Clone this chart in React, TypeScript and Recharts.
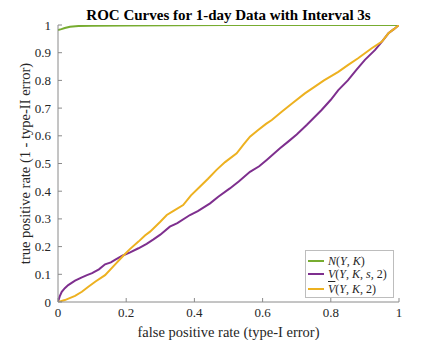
import React from 'react';
import { LineChart, Line, XAxis, YAxis } from 'recharts';

// N(Y,K)
const greenFpr = [0, 0.01, 0.02, 0.035, 0.06, 0.1, 0.2, 0.35, 0.5, 0.75, 1];
const greenTpr = [0.982, 0.985, 0.989, 0.994, 0.996, 0.997, 0.998, 0.999, 1, 1, 1];

// V(Y,K,s,2)
const purpleFpr = [0, 0.005, 0.011, 0.02, 0.03, 0.05, 0.07, 0.085, 0.1, 0.12, 0.138, 0.155, 0.167, 0.19, 0.21, 0.236, 0.26, 0.28, 0.3, 0.328, 0.35, 0.387, 0.41, 0.446, 0.47, 0.504, 0.53, 0.563, 0.59, 0.612, 0.651, 0.675, 0.7, 0.73, 0.773, 0.8, 0.822, 0.85, 0.875, 0.9, 0.93, 0.95, 0.969, 0.985, 1];
const purpleTpr = [0, 0.02, 0.037, 0.05, 0.061, 0.077, 0.089, 0.097, 0.104, 0.118, 0.136, 0.143, 0.152, 0.168, 0.178, 0.194, 0.21, 0.226, 0.243, 0.272, 0.285, 0.314, 0.328, 0.356, 0.38, 0.41, 0.435, 0.47, 0.49, 0.513, 0.555, 0.579, 0.605, 0.64, 0.693, 0.73, 0.765, 0.8, 0.838, 0.874, 0.91, 0.94, 0.97, 0.985, 1];

// V-bar(Y,K,2)
const yellowFpr = [0, 0.02, 0.05, 0.07, 0.089, 0.11, 0.138, 0.167, 0.19, 0.21, 0.236, 0.255, 0.27, 0.3, 0.319, 0.34, 0.367, 0.39, 0.416, 0.44, 0.465, 0.49, 0.524, 0.545, 0.563, 0.587, 0.61, 0.627, 0.656, 0.69, 0.724, 0.75, 0.78, 0.822, 0.85, 0.88, 0.92, 0.95, 0.969, 0.985, 1];
const yellowTpr = [0, 0.007, 0.022, 0.037, 0.055, 0.074, 0.097, 0.135, 0.165, 0.19, 0.218, 0.24, 0.254, 0.29, 0.314, 0.33, 0.35, 0.385, 0.416, 0.445, 0.477, 0.505, 0.537, 0.57, 0.597, 0.621, 0.643, 0.657, 0.687, 0.72, 0.753, 0.775, 0.8, 0.831, 0.855, 0.88, 0.916, 0.94, 0.97, 0.985, 1];

const xTicks = [0, 0.2, 0.4, 0.6, 0.8, 1];
const yTicks = [0, 0.1, 0.2, 0.3, 0.4, 0.5, 0.6, 0.7, 0.8, 0.9, 1];

const title = 'ROC Curves for 1-day Data with Interval 3s';
const xLabel = 'false positive rate (type-I error)';
const yLabel = 'true positive rate (1 - type-II error)';

const zip = (xs: number[], ys: number[]) => xs.map((x, i) => ({ x, y: ys[i] }));
const greenData = zip(greenFpr, greenTpr);
const purpleData = zip(purpleFpr, purpleTpr);
const yellowData = zip(yellowFpr, yellowTpr);

const GREEN = '#77AC30';
const PURPLE = '#7E2F8E';
const YELLOW = '#EDB120';
const FONT = 'Liberation Serif';
const TEXT = '#262626';
const AXIS = '#8a8a8a';

function XTick(props: any) {
  const { x, y, payload } = props;
  return (
    <text x={x} y={y} dy={9} textAnchor="middle" fill={TEXT} fontSize={13} fontFamily={FONT}>
      {String(payload.value)}
    </text>
  );
}

function YTick(props: any) {
  const { x, y, payload } = props;
  return (
    <text x={x} y={y} dy={4.5} textAnchor="end" fill={TEXT} fontSize={13} fontFamily={FONT}>
      {String(payload.value)}
    </text>
  );
}

function LegendRow({ color, top, children }: { color: string; top: number; children: React.ReactNode }) {
  return (
    <div style={{ position: 'absolute', left: 2, top, height: 14, display: 'flex', alignItems: 'center', whiteSpace: 'nowrap' }}>
      <div style={{ width: 16, height: 2, background: color, marginRight: 4 }} />
      <span style={{ fontSize: 12, fontFamily: FONT, color: TEXT, lineHeight: '14px' }}>{children}</span>
    </div>
  );
}

export default function App() {
  return (
    <div style={{ position: 'absolute', left: 0, top: 0, width: 440, height: 340, background: '#fff', fontFamily: FONT }}>
      <div style={{ position: 'absolute', left: 58, width: 341, top: 7, textAlign: 'center', fontWeight: 'bold', fontSize: 15, lineHeight: '17px', color: '#000' }}>
        {title}
      </div>
      <div style={{ position: 'absolute', left: 0, top: 0 }}>
        <LineChart width={440} height={340} margin={{ top: 25, right: 41, bottom: 0, left: 18 }}>
          <XAxis
            dataKey="x"
            type="number"
            domain={[0, 1]}
            ticks={xTicks}
            allowDataOverflow
            height={38}
            tickSize={-4}
            tickMargin={10}
            stroke={AXIS}
            tick={<XTick />}
            label={{ value: xLabel, position: 'insideBottom', offset: 3, fill: TEXT, fontSize: 14.5, fontFamily: FONT }}
          />
          <YAxis
            dataKey="y"
            type="number"
            domain={[0, 1]}
            ticks={yTicks}
            allowDataOverflow
            width={40}
            tickSize={-4}
            tickMargin={11}
            stroke={AXIS}
            tick={<YTick />}
            label={{ value: yLabel, angle: -90, position: 'insideLeft', offset: 7, fill: TEXT, fontSize: 14.5, fontFamily: FONT, style: { textAnchor: 'middle' } }}
          />
          <Line data={greenData} dataKey="y" type="linear" stroke={GREEN} strokeWidth={2} dot={false} activeDot={false} isAnimationActive={false} />
          <Line data={purpleData} dataKey="y" type="linear" stroke={PURPLE} strokeWidth={2} dot={false} activeDot={false} isAnimationActive={false} />
          <Line data={yellowData} dataKey="y" type="linear" stroke={YELLOW} strokeWidth={2} dot={false} activeDot={false} isAnimationActive={false} />
        </LineChart>
      </div>
      <div style={{ position: 'absolute', left: 305, top: 250, width: 87, height: 46, border: '1px solid #bdbdbd', background: '#fff' }}>
        <LegendRow color={GREEN} top={3}>
          <i>N</i>(<i>Y</i>, <i>K</i>)
        </LegendRow>
        <LegendRow color={PURPLE} top={16}>
          <i>V</i>(<i>Y</i>, <i>K</i>, <i>s</i>, 2)
        </LegendRow>
        <LegendRow color={YELLOW} top={31}>
          <i style={{ textDecoration: 'overline' }}>V</i>(<i>Y</i>, <i>K</i>, 2)
        </LegendRow>
      </div>
    </div>
  );
}
